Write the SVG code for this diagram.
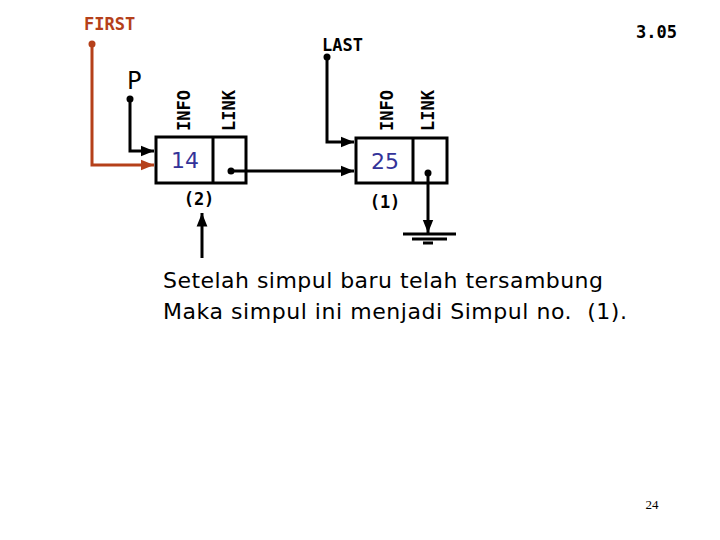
<svg xmlns="http://www.w3.org/2000/svg" width="720" height="540" viewBox="0 0 720 540">
<style>
.lbl{font-family:"DejaVu Sans Mono","Liberation Mono",monospace;font-weight:bold;font-size:17px;fill:#000}
.box{fill:#fff;stroke:#000;stroke-width:3}
.ln{fill:none;stroke:#000;stroke-width:3}
.red{fill:none;stroke:#b5401a;stroke-width:3}
.val{font-family:"DejaVu Sans","Liberation Sans",sans-serif;font-size:22px;fill:#333399}
.txt{font-family:"DejaVu Sans","Liberation Sans",sans-serif;font-size:22px;fill:#000}
</style>
<defs>
<marker id="ah" viewBox="0 0 10 10" refX="10" refY="5" markerWidth="4.5" markerHeight="4.5" orient="auto" markerUnits="strokeWidth"><path d="M0,1 L10,5 L0,9 z" fill="#000"/></marker>
<marker id="ahr" viewBox="0 0 10 10" refX="10" refY="5" markerWidth="4.5" markerHeight="4.5" orient="auto" markerUnits="strokeWidth"><path d="M0,1 L10,5 L0,9 z" fill="#b5401a"/></marker>
</defs>
<g id="node1">
<rect class="box" x="156" y="137" width="90" height="46"/>
<line class="ln" x1="213" y1="137" x2="213" y2="183"/>
<text class="val" x="185" y="168" text-anchor="middle">14</text>
<text class="lbl" transform="translate(190,131) rotate(-90)">INFO</text>
<text class="lbl" transform="translate(235,131) rotate(-90)">LINK</text>
<text class="lbl" x="199" y="205" text-anchor="middle" font-size="14">(2)</text>
</g>
<g id="node2">
<rect class="box" x="356" y="138" width="91" height="45"/>
<line class="ln" x1="413" y1="138" x2="413" y2="183"/>
<text class="val" x="385" y="169" text-anchor="middle">25</text>
<text class="lbl" transform="translate(393,131) rotate(-90)">INFO</text>
<text class="lbl" transform="translate(434,131) rotate(-90)">LINK</text>
<text class="lbl" x="385" y="208" text-anchor="middle" font-size="14">(1)</text>
</g>
<g id="first">
<text class="lbl" x="84" y="30" style="fill:#b5401a">FIRST</text>
<circle cx="92" cy="44" r="3.5" fill="#b5401a"/>
</g>
<g id="p">
<text x="127" y="89" font-family="DejaVu Sans, Liberation Sans, sans-serif" font-size="24">P</text>
<circle cx="130" cy="99" r="3.5" fill="#000"/>
</g>
<g id="last">
<text class="lbl" x="322" y="51">LAST</text>
<circle cx="327" cy="57" r="3.5" fill="#000"/>
</g>
<g id="ground">
<line class="ln" x1="403" y1="234" x2="456" y2="234"/>
<line class="ln" x1="412" y1="239" x2="447" y2="239"/>
<line class="ln" x1="423" y1="243" x2="433" y2="243"/>
</g>
<g id="connectors">
<polyline class="red" points="92,44 92,165 154,165" marker-end="url(#ahr)"/>
<polyline class="ln" points="130,99 130,151 154,151" marker-end="url(#ah)"/>
<circle cx="231" cy="171" r="3.5" fill="#000"/>
<line class="ln" x1="231" y1="171" x2="354" y2="171" marker-end="url(#ah)"/>
<polyline class="ln" points="327,57 327,142 354,142" marker-end="url(#ah)"/>
<circle cx="428" cy="173" r="3.5" fill="#000"/>
<line class="ln" x1="428" y1="173" x2="428" y2="233" marker-end="url(#ah)"/>
<line class="ln" x1="202" y1="258" x2="202" y2="213" marker-end="url(#ah)"/>
</g>
<text class="lbl" x="636" y="38" font-size="14">3.05</text>
<text class="txt" x="163" y="288" textLength="440" lengthAdjust="spacing">Setelah simpul baru telah tersambung</text>
<text class="txt" x="163" y="319" textLength="464" lengthAdjust="spacing" xml:space="preserve">Maka simpul ini menjadi Simpul no.  (1).</text>
<text x="652" y="509" font-family="Liberation Serif, serif" font-size="13" text-anchor="middle">24</text>
</svg>
